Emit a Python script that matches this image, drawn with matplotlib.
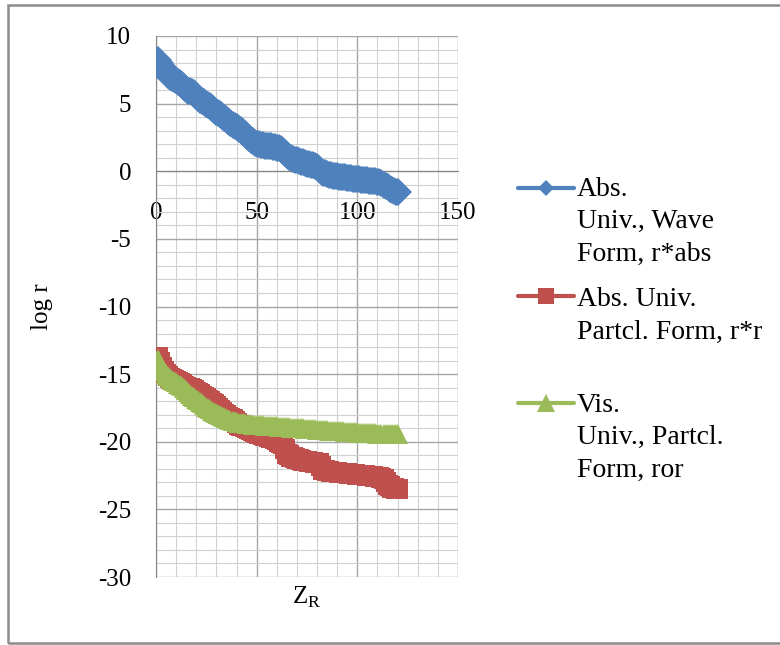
import matplotlib
matplotlib.use("Agg")
import matplotlib.pyplot as plt
from matplotlib.lines import Line2D
from matplotlib.patches import Rectangle
from matplotlib.ticker import MultipleLocator

plt.rcParams['font.family'] = ['Liberation Serif', 'DejaVu Serif']
plt.rcParams['mathtext.fontset'] = 'custom'
plt.rcParams['mathtext.rm'] = 'Liberation Serif'
plt.rcParams['axes.unicode_minus'] = False

# Z_R = 1 .. 120
z_r = list(range(1, 121))

# Abs. Univ., Wave Form, r*abs
wave_abs = [8.2, 8.0, 7.75, 7.55, 7.35, 7.15, 7.0, 6.9, 6.85, 6.75,
            6.6, 6.5, 6.35, 6.2, 6.05, 5.95, 5.9, 5.85, 5.75, 5.6,
            5.45, 5.3, 5.2, 5.1, 5.0, 4.9, 4.8, 4.65, 4.5, 4.4,
            4.3, 4.2, 4.1, 3.95, 3.85, 3.75, 3.6, 3.45, 3.35, 3.25,
            3.15, 3.05, 2.9, 2.75, 2.6, 2.45, 2.3, 2.2, 2.1, 2.05,
            2.0, 1.95, 1.95, 1.9, 1.9, 1.85, 1.85, 1.8, 1.8, 1.75,
            1.7, 1.65, 1.5, 1.35, 1.2, 1.05, 0.95, 0.9, 0.85, 0.8,
            0.75, 0.7, 0.65, 0.6, 0.55, 0.5, 0.45, 0.45, 0.4, 0.3,
            0.15, 0.0, -0.1, -0.15, -0.2, -0.25, -0.3, -0.32, -0.35, -0.38,
            -0.4, -0.42, -0.44, -0.46, -0.48, -0.5, -0.52, -0.54, -0.55, -0.57,
            -0.59, -0.61, -0.63, -0.65, -0.67, -0.69, -0.71, -0.72, -0.74, -0.76,
            -0.8, -0.88, -0.98, -1.08, -1.18, -1.28, -1.36, -1.44, -1.5, -1.55]

# Abs. Univ. Partcl. Form, r*r
partcl_rr = [-13.7, -14.1, -14.5, -14.8, -15.0, -15.15, -15.25, -15.35, -15.45, -15.5,
             -15.55, -15.65, -15.75, -15.85, -15.95, -16.0, -16.05, -16.1, -16.2, -16.3,
             -16.4, -16.5, -16.6, -16.7, -16.8, -16.9, -17.0, -17.1, -17.2, -17.35,
             -17.5, -17.65, -17.8, -17.95, -18.05, -18.15, -18.25, -18.35, -18.5, -18.65,
             -18.75, -18.8, -18.85, -18.9, -19.0, -19.05, -19.1, -19.2, -19.3, -19.35,
             -19.4, -19.45, -19.5, -19.55, -19.6, -19.65, -19.7, -19.75, -19.8, -19.85,
             -20.0, -20.1, -20.2, -20.5, -20.9, -21.0, -21.1, -21.15, -21.2, -21.25,
             -21.3, -21.35, -21.4, -21.42, -21.45, -21.48, -21.5, -21.52, -21.55, -21.58,
             -21.6, -21.8, -22.1, -22.12, -22.15, -22.17, -22.2, -22.22, -22.24, -22.26,
             -22.28, -22.3, -22.3, -22.32, -22.34, -22.36, -22.38, -22.4, -22.42, -22.44,
             -22.45, -22.46, -22.47, -22.48, -22.5, -22.5, -22.52, -22.55, -22.58, -22.6,
             -22.6, -22.65, -22.75, -23.0, -23.2, -23.3, -23.4, -23.45, -23.5, -23.5]

# Vis. Univ., Partcl. Form, ror
partcl_ror = [-13.9, -14.3, -14.6, -14.8, -15.0, -15.15, -15.3, -15.4, -15.5, -15.6,
              -15.7, -15.8, -15.9, -16.05, -16.2, -16.35, -16.5, -16.6, -16.7, -16.85,
              -16.95, -17.05, -17.15, -17.3, -17.4, -17.5, -17.6, -17.7, -17.8, -17.9,
              -17.97, -18.05, -18.12, -18.2, -18.27, -18.33, -18.4, -18.45, -18.5, -18.55,
              -18.58, -18.6, -18.62, -18.65, -18.67, -18.69, -18.71, -18.73, -18.74, -18.75,
              -18.76, -18.77, -18.78, -18.8, -18.81, -18.82, -18.83, -18.84, -18.86, -18.87,
              -18.88, -18.89, -18.9, -18.91, -18.92, -18.94, -18.95, -18.96, -18.97, -18.98,
              -19.0, -19.01, -19.02, -19.03, -19.04, -19.05, -19.07, -19.08, -19.09, -19.1,
              -19.11, -19.12, -19.13, -19.15, -19.16, -19.17, -19.18, -19.19, -19.2, -19.21,
              -19.22, -19.23, -19.24, -19.25, -19.26, -19.27, -19.28, -19.29, -19.3, -19.31,
              -19.32, -19.33, -19.34, -19.35, -19.36, -19.37, -19.38, -19.38, -19.39, -19.4,
              -19.4, -19.41, -19.42, -19.42, -19.43, -19.44, -19.44, -19.45, -19.46, -19.46]

labels = ["Abs.\nUniv., Wave\nForm, r*abs",
          "Abs. Univ.\nPartcl. Form, r*r",
          "Vis.\nUniv., Partcl.\nForm, ror"]

blue = '#4F81BD'
red = '#C0504D'
green = '#9BBB59'

W, H = 780, 645


def fx(x):
    return x / W


def fy(y):
    return 1 - y / H


fig = plt.figure(figsize=(7.8, 6.45), dpi=100)
ax = fig.add_axes([fx(156), fy(577), fx(458) - fx(156), fy(36) - fy(577)])

ax.plot(z_r, wave_abs, color=blue, lw=2.25, marker='D', ms=14.5, mew=0, zorder=3)
ax.plot(z_r, partcl_rr, color=red, lw=2.25, marker='s', ms=14, mew=0, zorder=4)
ax.plot(z_r, partcl_ror, color=green, lw=2.25, marker='^', ms=14, mew=0, zorder=5)

ax.set_xlim(0, 150)
ax.set_ylim(-30, 10)
ax.xaxis.set_major_locator(MultipleLocator(50))
ax.xaxis.set_minor_locator(MultipleLocator(10))
ax.yaxis.set_major_locator(MultipleLocator(5))
ax.yaxis.set_minor_locator(MultipleLocator(1))
ax.grid(which='major', color='#A6A6A6', lw=1.0)
ax.grid(which='minor', color='#D0D0D0', lw=0.8)
ax.set_axisbelow(True)

for s in ['top', 'right']:
    ax.spines[s].set_visible(False)
ax.spines['bottom'].set_position(('data', 0))
ax.spines['bottom'].set_color('#868686')
ax.spines['left'].set_color('#868686')
ax.tick_params(which='both', length=0)
ax.tick_params(axis='y', pad=18, labelsize=18)
ax.tick_params(axis='x', pad=22, labelsize=18)

ax.set_ylabel("log r", fontsize=18)
ax.yaxis.set_label_coords((53 - 156) / 302, 0.5)
ax.set_xlabel("Z$_\\mathregular{R}$", fontsize=18)
ax.xaxis.set_label_coords(0.5, -0.015)

# legend drawn by hand (text anchored on the baseline of its last line)
leg_y = [188, 296, 403]
leg_last_base = [261, 339, 477]
leg_marker = ['D', 's', '^']
leg_ms = [8, 11, 13]
leg_col = [blue, red, green]
for i in range(3):
    fig.add_artist(Line2D([fx(518), fx(574)], [fy(leg_y[i]), fy(leg_y[i])],
                          transform=fig.transFigure, color=leg_col[i], lw=3,
                          solid_capstyle='round'))
    fig.add_artist(Line2D([fx(546)], [fy(leg_y[i])], transform=fig.transFigure,
                          marker=leg_marker[i], ms=leg_ms[i], color=leg_col[i], mew=0))
    fig.text(fx(577), fy(leg_last_base[i]), labels[i], fontsize=20, va='baseline',
             ha='left', linespacing=1.4)

fig.add_artist(Rectangle((fx(8), fy(643)), fx(800) - fx(8), fy(5) - fy(643),
                         transform=fig.transFigure, fill=False, ec='#8C8C8C', lw=1.8))

fig.savefig("out.png", dpi=100)
